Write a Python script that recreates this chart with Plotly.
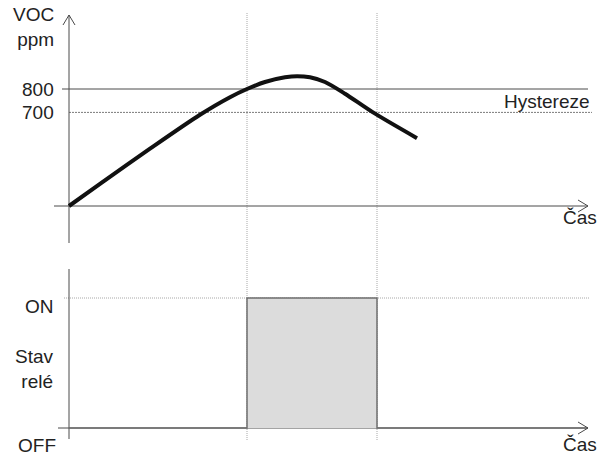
import plotly.graph_objects as go

# ---------------- data ----------------
time_t = [0, 3.1, 8.1, 13.1, 16.1, 17.8, 19.6, 21.6, 22.8, 24.1, 25.6, 27.6, 30.4, 34.8]
voc_ppm = [300, 395, 545, 690, 765, 800, 830, 850, 855, 850, 830, 780, 700, 590]

threshold_on = 800
threshold_off = 700
baseline_ppm = 300

t_on = 17.8
t_off = 30.8
t_end = 51.9

relay_t = [0, t_on, t_on, t_off, t_off, t_end]
relay_state = [0, 0, 1, 1, 0, 0]

y_tick_vals = [threshold_on, threshold_off]
y_tick_text = ["800", "700"]

# ---------------- layout helpers (pixel geometry) ----------------
W, H = 598, 455
X0_PX = 69            # pixel of t = 0
PX_PER_T = 10.0
Y800_PX = 89
PX_PER_PPM = 0.234
OFF_PX, PX_PER_STATE = 428, 130.0
TOP_H = 250           # top panel height px

def t_of(px):
    return (px - X0_PX) / PX_PER_T

def ppm_of(py):
    return 800 - (py - Y800_PX) / PX_PER_PPM

def st_of(py):
    return (OFF_PX - py) / PX_PER_STATE

def pxp(px):
    return px / W

def pyp(py):
    return 1 - py / H

AX = "#4a4a4a"
DOT = "#a8a8a8"
TXT = "#222222"
FONT = dict(family="Liberation Sans, Arial, sans-serif", size=19, color=TXT)

fig = go.Figure()

fig.add_trace(go.Scatter(
    x=time_t, y=voc_ppm, mode="lines",
    line=dict(color="#111111", width=4, shape="spline", smoothing=0.8),
    xaxis="x", yaxis="y", hoverinfo="skip", showlegend=False))

fig.add_trace(go.Scatter(
    x=relay_t, y=relay_state, mode="lines", fill="tozeroy",
    fillcolor="#dcdcdc", line=dict(color="#6e6e6e", width=1.5),
    xaxis="x2", yaxis="y2", hoverinfo="skip", showlegend=False))

shapes = []
# vertical dotted guides through both panels
for tv in (t_on, t_off):
    shapes.append(dict(type="line", xref="x", yref="paper", x0=tv, x1=tv,
                       y0=pyp(13), y1=pyp(441), layer="below",
                       line=dict(color=DOT, width=1, dash="1px,1px")))
# threshold lines
shapes.append(dict(type="line", xref="x", yref="y", x0=t_of(62), x1=t_end,
                   y0=threshold_on, y1=threshold_on, layer="below",
                   line=dict(color=AX, width=1)))
shapes.append(dict(type="line", xref="x", yref="y", x0=0, x1=t_of(592),
                   y0=threshold_off, y1=threshold_off, layer="below",
                   line=dict(color="#7a7a7a", width=1, dash="2px,1px")))
# top axes
shapes.append(dict(type="line", xref="x", yref="y", x0=0, x1=0,
                   y0=ppm_of(243), y1=ppm_of(15), layer="below",
                   line=dict(color=AX, width=1)))
shapes.append(dict(type="line", xref="x", yref="y", x0=t_of(54), x1=t_end,
                   y0=baseline_ppm, y1=baseline_ppm, layer="below",
                   line=dict(color=AX, width=1)))
# ON dotted line
shapes.append(dict(type="line", xref="x2", yref="y2", x0=t_of(64), x1=t_of(590),
                   y0=1, y1=1, layer="below",
                   line=dict(color=DOT, width=1, dash="1px,1px")))
# bottom axes
shapes.append(dict(type="line", xref="x2", yref="y2", x0=0, x1=0,
                   y0=st_of(439), y1=st_of(269), layer="below",
                   line=dict(color=AX, width=1)))
shapes.append(dict(type="line", xref="x2", yref="y2", x0=t_of(58), x1=t_end,
                   y0=0, y1=0, layer="below",
                   line=dict(color=AX, width=1)))

# arrow chevrons (paper coords)
def chevron(tip_x, tip_y, dx1, dy1, dx2, dy2):
    return dict(type="path", xref="paper", yref="paper",
                path=f"M {pxp(tip_x+dx1)} {pyp(tip_y+dy1)} L {pxp(tip_x)} {pyp(tip_y)} L {pxp(tip_x+dx2)} {pyp(tip_y+dy2)}",
                line=dict(color=AX, width=1))

shapes.append(chevron(X0_PX, 15, -6, 10, 6, 10))
tip_x = X0_PX + t_end * PX_PER_T
shapes.append(chevron(tip_x, 206, -10, -6, -10, 6))
shapes.append(chevron(tip_x, OFF_PX, -10, -6, -10, 6))

annotations = []
def ann(text, px, py, xanchor="right", yanchor="middle"):
    annotations.append(dict(text=text, x=pxp(px), y=pyp(py), xref="paper", yref="paper",
                            xanchor=xanchor, yanchor=yanchor, showarrow=False, font=FONT,
                            align="right", borderpad=0))

ann("VOC<br>ppm", 55, 27)
for v, lab in zip(y_tick_vals, y_tick_text):
    annotations.append(dict(text=lab, x=pxp(55), y=v, xref="paper", yref="y",
                            xanchor="right", yanchor="middle", showarrow=False, font=FONT,
                            borderpad=0))
ann("Hystereze", 591, 102)
ann("Čas", 598, 217)
ann("ON", 55, 306)
ann("Stav<br>relé", 55, 369)
ann("OFF", 57, 445)
ann("Čas", 598, 444)

fig.update_layout(
    width=W, height=H,
    margin=dict(l=0, r=0, t=0, b=0),
    paper_bgcolor="white", plot_bgcolor="white",
    showlegend=False,
    xaxis=dict(domain=[0, 1], range=[t_of(0), t_of(W)], visible=False, anchor="y"),
    xaxis2=dict(domain=[0, 1], range=[t_of(0), t_of(W)], visible=False, anchor="y2", matches="x"),
    yaxis=dict(domain=[1 - TOP_H / H, 1], range=[ppm_of(TOP_H), ppm_of(0)], visible=False),
    yaxis2=dict(domain=[0, 1 - TOP_H / H], range=[st_of(H), st_of(TOP_H)], visible=False),
    shapes=shapes,
    annotations=annotations,
)

fig.write_html("out.html",
               config={"displayModeBar": False},
               post_script="document.body.style.margin='0';document.body.style.overflow='hidden';")
